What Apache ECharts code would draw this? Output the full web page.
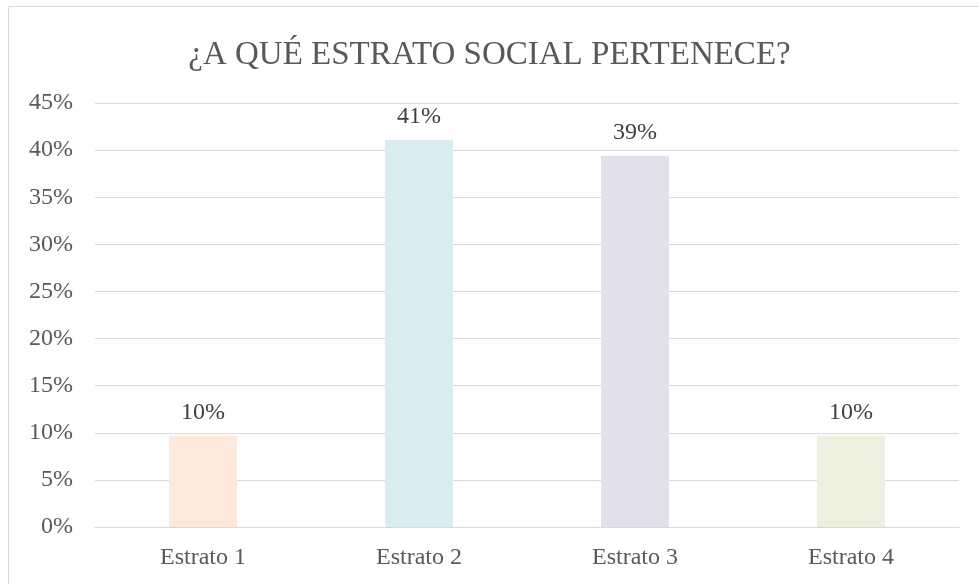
<!DOCTYPE html>
<html>
<head>
<meta charset="utf-8">
<script src="https://cdn.jsdelivr.net/npm/echarts@6/dist/echarts.min.js"></script>
<style>
html,body{margin:0;padding:0;background:#fff;}
#c{width:979px;height:584px;}
</style>
</head>
<body>
<div id="c"></div>
<script>
const title = '¿A QUÉ ESTRATO SOCIAL PERTENECE?';
const categories = ['Estrato 1', 'Estrato 2', 'Estrato 3', 'Estrato 4'];
const values = [9.7, 41.1, 39.4, 9.7];
const barColors = ['#fce9dc', '#daedf3', '#e4dfec', '#ebf1de'];
const yTicks = { min: 0, max: 45, interval: 5 };

const font = '"Liberation Serif", "DejaVu Serif", serif';
const chart = echarts.init(document.getElementById('c'), null, { renderer: 'canvas' });
chart.setOption({
  backgroundColor: '#fff',
  animation: false,
  graphic: [{
    type: 'rect',
    shape: { x: 8.5, y: 6.5, width: 1000, height: 1000 },
    style: { fill: 'none', stroke: '#d9d9d9', lineWidth: 1 },
    silent: true
  }],
  title: {
    text: title,
    left: 'center',
    top: 34,
    textStyle: { fontFamily: font, fontSize: 33, fontWeight: 'normal', color: '#595959' }
  },
  grid: { left: 95, right: 20, top: 103, bottom: 57, containLabel: false },
  xAxis: {
    type: 'category',
    data: categories,
    axisLine: { lineStyle: { color: '#d9d9d9', width: 1 } },
    axisTick: { show: false },
    axisLabel: { fontFamily: font, fontSize: 24, color: '#595959', margin: 19 }
  },
  yAxis: {
    type: 'value',
    min: yTicks.min, max: yTicks.max, interval: yTicks.interval,
    axisLine: { show: false },
    axisTick: { show: false },
    splitLine: { lineStyle: { color: '#d9d9d9', width: 1 } },
    axisLabel: { fontFamily: font, fontSize: 24, color: '#595959', margin: 22, formatter: '{value}%' }
  },
  series: [{
    type: 'bar',
    data: values.map((v, i) => ({ value: v, itemStyle: { color: barColors[i] } })),
    barWidth: 68,
    label: {
      show: true, position: 'top', distance: 11,
      fontFamily: font, fontSize: 24, color: '#404040',
      formatter: p => Math.round(p.value) + '%'
    }
  }]
});
</script>
</body>
</html>
